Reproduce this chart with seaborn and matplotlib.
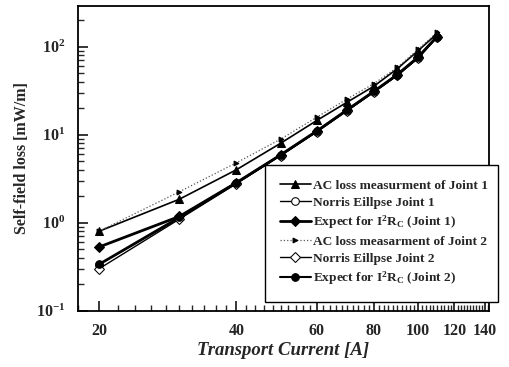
import numpy as np
import pandas as pd
import matplotlib
matplotlib.use("Agg")
import matplotlib.pyplot as plt
import matplotlib.ticker as mticker
import seaborn as sns

current  = [20, 30, 40, 50, 60, 70, 80, 90, 100, 110]
ac_j1    = [0.80, 1.85, 4.0, 8.0, 14.5, 23.5, 35.5, 56, 90, 140]
norris_j1 = [0.33, 1.12, 2.80, 5.8, 10.8, 18.8, 30.5, 47, 74, 128]
expect_j1 = [0.53, 1.18, 2.85, 5.9, 11.0, 19.2, 31.0, 48, 76, 130]
ac_j2    = [0.80, 2.25, 4.8, 8.9, 15.8, 25.5, 38.0, 58, 93, 145]
norris_j2 = [0.30, 1.10, 2.78, 5.8, 10.8, 18.8, 30.5, 47, 74, 128]
expect_j2 = [0.34, 1.16, 2.85, 5.9, 11.0, 19.2, 31.0, 48, 76, 130]

labels = ['AC loss measurment of Joint 1',
          'Norris Eillpse Joint 1',
          r'Expect for I$^{2}$R$_{C}$ (Joint 1)',
          'AC loss measarment of Joint 2',
          'Norris Eillpse Joint 2',
          r'Expect for I$^{2}$R$_{C}$ (Joint 2)']

sns.set_style('ticks')
plt.rcParams['font.family'] = ['Liberation Serif', 'DejaVu Serif']
plt.rcParams['font.weight'] = 'bold'
plt.rcParams['mathtext.fontset'] = 'custom'
plt.rcParams['mathtext.rm'] = 'Liberation Serif:bold'
plt.rcParams['mathtext.bf'] = 'Liberation Serif:bold'
plt.rcParams['mathtext.default'] = 'bf'

fig = plt.figure(figsize=(5.1, 3.67), dpi=100)
ax = fig.add_axes([0.153, 0.153, 0.806, 0.831])

series = [
    (ac_j1,     dict(color='black', lw=1.2, ls='-', marker='^', ms=5.5, mfc='black', mec='black')),
    (norris_j1, dict(color='black', lw=1.0, ls='-', marker='o', ms=5.5, mfc='white', mec='black')),
    (expect_j1, dict(color='black', lw=2.0, ls='-', marker='D', ms=5.5, mfc='black', mec='black')),
    (ac_j2,     dict(color='#555555', lw=0.9, ls=':', marker='>', ms=3.5, mfc='black', mec='black')),
    (norris_j2, dict(color='black', lw=1.0, ls='-', marker='D', ms=5.5, mfc='white', mec='black')),
    (expect_j2, dict(color='black', lw=1.5, ls='-', marker='o', ms=5.5, mfc='black', mec='black')),
]

for (vals, kw), lab in zip(series, labels):
    df = pd.DataFrame({'I': current, 'loss': vals})
    sns.lineplot(data=df, x='I', y='loss', ax=ax, label=lab,
                 linestyle=kw['ls'], color=kw['color'], linewidth=kw['lw'],
                 marker=kw['marker'], markersize=kw['ms'],
                 markerfacecolor=kw['mfc'], markeredgecolor=kw['mec'])

ax.set_xscale('log')
ax.set_yscale('log')
ax.set_xlim(18, 143)
ax.set_ylim(0.1, 290)

ax.xaxis.set_major_locator(mticker.FixedLocator([20, 40, 60, 80, 100, 120, 140]))
ax.xaxis.set_major_formatter(mticker.FuncFormatter(lambda v, p: f'{int(v)}'))
ax.xaxis.set_minor_locator(mticker.FixedLocator([v for v in range(18, 144, 2) if v % 20]))
ax.xaxis.set_minor_formatter(mticker.NullFormatter())

ax.yaxis.set_major_locator(mticker.LogLocator(base=10))
ax.yaxis.set_minor_locator(mticker.LogLocator(base=10, subs=np.arange(2, 10)))
ax.yaxis.set_major_formatter(mticker.FuncFormatter(lambda v, p: r'$10^{%d}$' % round(np.log10(v))))
ax.yaxis.set_minor_formatter(mticker.NullFormatter())

ax.tick_params(which='both', direction='in', top=False, right=False, labelsize=11.5, pad=9)
ax.tick_params(which='major', length=7, width=1.3)
ax.tick_params(which='minor', length=4, width=1.0)
for s in ax.spines.values():
    s.set_linewidth(1.3)
    s.set_color('black')

ax.set_xlabel('Transport Current [A]', fontsize=13.5, fontweight='bold', fontstyle='italic', labelpad=2)
ax.set_ylabel('Self-field loss [mW/m]', fontsize=11.5, fontweight='bold', labelpad=4)

leg = ax.legend(loc='lower left', bbox_to_anchor=(0.52, 0.177, 0.456, 0.379),
                bbox_transform=fig.transFigure, mode='expand',
                frameon=True, fancybox=False, framealpha=1, edgecolor='black',
                fontsize=9.6, handlelength=2.3, handletextpad=0.15,
                labelspacing=0.35, borderaxespad=0, borderpad=1.1)
leg.get_frame().set_linewidth(1.0)
for t in leg.get_texts():
    t.set_fontweight('bold')

fig.savefig('out.png', dpi=100)
